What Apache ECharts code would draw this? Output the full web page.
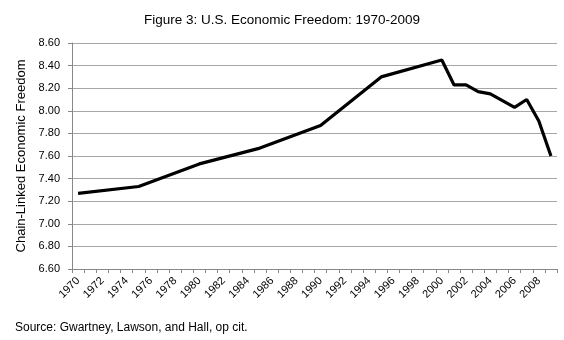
<!DOCTYPE html>
<html><head><meta charset="utf-8">
<script src="https://cdn.jsdelivr.net/npm/echarts@6/dist/echarts.min.js"></script>
<style>html,body{margin:0;padding:0;background:#fff}#c{width:564px;height:340px}</style>
</head><body><div id="c"></div>
<script>
const years = [];
for (let y = 1970; y <= 2009; y++) years.push(String(y));
const obsYears = [1970,1975,1980,1985,1990,1995,2000,2001,2002,2003,2004,2005,2006,2007,2008,2009];
const obsValues = [7.27,7.33,7.53,7.67,7.87,8.30,8.45,8.23,8.23,8.17,8.15,8.09,8.03,8.10,7.91,7.60];
const titleText = 'Figure 3: U.S. Economic Freedom: 1970-2009';
const yAxisName = 'Chain-Linked Economic Freedom';
const sourceText = 'Source: Gwartney, Lawson, and Hall, op cit.';

const seriesData = years.map(y => {
  const i = obsYears.indexOf(Number(y));
  return i >= 0 ? obsValues[i] : null;
});

const chart = echarts.init(document.getElementById('c'), null, {renderer:'canvas'});
chart.setOption({
  animation: false,
  textStyle: {fontFamily: 'Liberation Sans, Arial, sans-serif'},
  title: [{
    text: titleText, left: 'center', top: 8,
    textStyle: {fontSize: 13.5, fontWeight: 'normal', color: '#000', fontFamily: 'Liberation Sans'}
  },{
    text: sourceText, left: 10, top: 317,
    textStyle: {fontSize: 12, fontWeight: 'normal', color: '#000', fontFamily: 'Liberation Sans'}
  }],
  grid: {left: 72, right: 7, top: 43, bottom: 71, containLabel: false},
  xAxis: {
    type: 'category', data: years, boundaryGap: true,
    axisLine: {lineStyle: {color: '#888', width: 1}},
    axisTick: {show: true, length: 4, interval: 0, lineStyle: {color: '#888'}},
    axisLabel: {interval: 1, rotate: 45, fontSize: 11, color: '#000', margin: 10, fontFamily: 'Liberation Sans'}
  },
  yAxis: {
    type: 'value', min: 6.6, max: 8.6, interval: 0.2,
    name: yAxisName, nameLocation: 'middle', nameGap: 44, nameRotate: 90,
    nameTextStyle: {fontSize: 13, color: '#000', fontFamily: 'Liberation Sans'},
    axisLine: {show: true, lineStyle: {color: '#888'}},
    axisTick: {show: true, length: 4, lineStyle: {color: '#888'}},
    axisLabel: {fontSize: 11, color: '#000', margin: 12, formatter: v => v.toFixed(2), fontFamily: 'Liberation Sans'},
    splitLine: {lineStyle: {color: '#a6a6a6', width: 1}}
  },
  series: [{
    type: 'line', data: seriesData, connectNulls: true, showSymbol: false, symbol: 'none',
    lineStyle: {color: '#000', width: 3.2}
  }]
});
</script></body></html>
